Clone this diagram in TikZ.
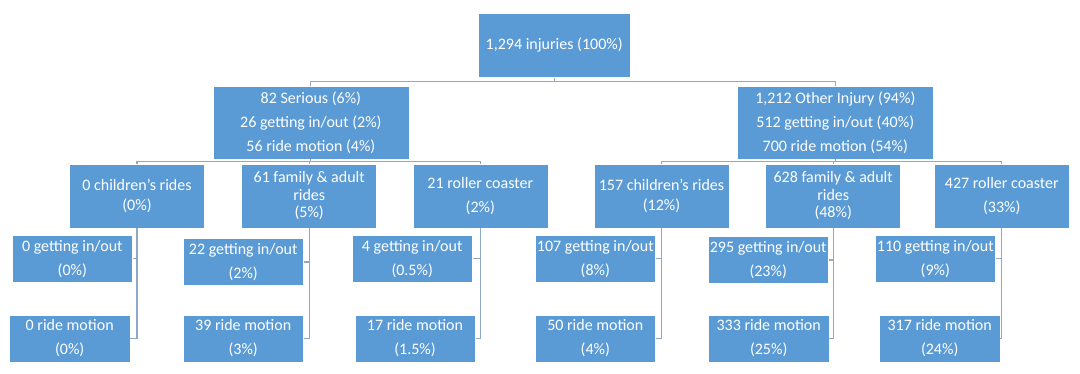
\documentclass[tikz,border=0pt]{standalone}
\usepackage{fontspec}
\setmainfont{Carlito}
\definecolor{boxblue}{HTML}{5B9BD5}
\definecolor{connblue}{HTML}{8FA9CB}
\begin{document}
\begin{tikzpicture}[x=1pt,y=-1pt,
  box/.style={rectangle, fill=boxblue, draw=white, line width=0.5pt, inner sep=0pt,
    text=white, align=center, font=\fontsize{16}{24}\selectfont},
  tight/.style={font=\fontsize{16}{19.5}\selectfont},
  tighter/.style={font=\fontsize{16}{17.5}\selectfont},
  conn/.style={draw=connblue, line width=1.1pt},
  leaf/.style={box, minimum width=120.5pt, minimum height=47pt},
  mid/.style={box, minimum width=135pt, minimum height=64pt}]
\useasboundingbox[fill=white] (0,0) rectangle (1080,373);
% level 0
\node[box, minimum width=151.7pt, minimum height=64.4pt] (root) at (554.2,45.5) {1,294 injuries (100\%)};
% level 1
\node[box, minimum width=196.3pt, minimum height=73pt] (ser) at (310.9,122.5)
  {82 Serious (6\%)\\26 getting in/out (2\%)\\56 ride motion (4\%)};
\node[box, minimum width=196.6pt, minimum height=73pt] (oth) at (835.3,122.5)
  {1,212 Other Injury (94\%)\\512 getting in/out (40\%)\\700 ride motion (54\%)};
% level 2
\node[mid, tight] (c1) at (137,196) {0 children’s rides\\(0\%)};
\node[mid, tighter] (f1) at (309.2,196) {61 family \& adult\\rides\\(5\%)};
\node[mid] (r1) at (480.3,196) {21 roller coaster\\(2\%)};
\node[mid, tight] (c2) at (661.5,196) {157 children’s rides\\(12\%)};
\node[mid, tighter] (f2) at (833.2,196) {628 family \& adult\\rides\\(48\%)};
\node[mid] (r2) at (1001.8,196) {427 roller coaster\\(33\%)};
% level 3
\node[leaf] (g1) at (72.3,258.6) {0 getting in/out\\(0\%)};
\node[leaf] (m1) at (69.7,338.3) {0 ride motion\\(0\%)};
\node[leaf] (g2) at (243.2,262) {22 getting in/out\\(2\%)};
\node[leaf] (m2) at (243.2,338.3) {39 ride motion\\(3\%)};
\node[leaf] (g3) at (412.2,258.6) {4 getting in/out\\(0.5\%)};
\node[leaf] (m3) at (415,338.3) {17 ride motion\\(1.5\%)};
\node[leaf] (g4) at (595.3,258.6) {107 getting in/out\\(8\%)};
\node[leaf] (m4) at (595.3,338.3) {50 ride motion\\(4\%)};
\node[leaf] (g5) at (768.2,260) {295 getting in/out\\(23\%)};
\node[leaf] (m5) at (768.7,338.3) {333 ride motion\\(25\%)};
\node[leaf] (g6) at (935.3,258.6) {110 getting in/out\\(9\%)};
\node[leaf] (m6) at (939.7,338.3) {317 ride motion\\(24\%)};
% connectors level 0 -> 1
\draw[conn] (root.south) -- ++(0,3.4) -| (ser.north);
\draw[conn] (root.south) -- ++(0,3.4) -| (oth.north);
% level 1 -> 2
\foreach \c in {c1,f1,r1} \draw[conn] (ser.south) -- ++(0,1.8) -| (\c.north);
\foreach \c in {c2,f2,r2} \draw[conn] (oth.south) -- ++(0,1.8) -| (\c.north);
% level 2 -> 3
\draw[conn] (c1.south) |- (g1.east);
\draw[conn] (c1.south) |- (m1.east);
\draw[conn] (f1.south) |- (g2.east);
\draw[conn] (f1.south) |- (m2.east);
\draw[conn] (r1.south) |- (g3.east);
\draw[conn] (r1.south) |- (m3.east);
\draw[conn] (c2.south) |- (g4.east);
\draw[conn] (c2.south) |- (m4.east);
\draw[conn] (f2.south) |- (g5.east);
\draw[conn] (f2.south) |- (m5.east);
\draw[conn] (r2.south) |- (g6.east);
\draw[conn] (r2.south) |- (m6.east);
\end{tikzpicture}
\end{document}
